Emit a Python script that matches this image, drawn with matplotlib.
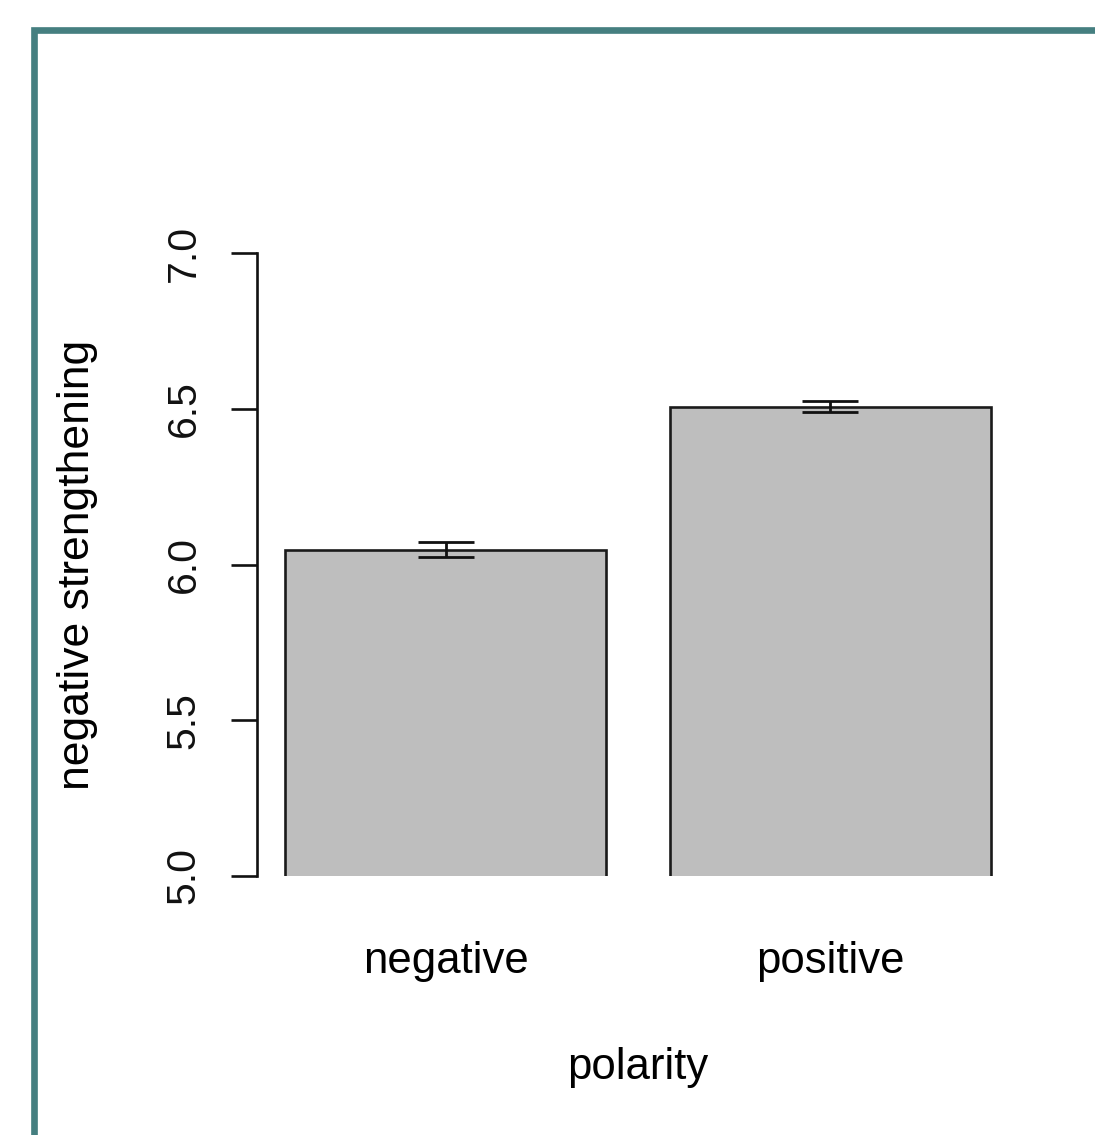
"""bar chart of negative strengthening by polarity"""
import matplotlib
matplotlib.use("Agg")
import matplotlib.pyplot as plt
from matplotlib.lines import Line2D

plt.rcParams['font.family'] = ['Liberation Sans', 'DejaVu Sans']

polarity = ['negative', 'positive']
means = [6.048, 6.507]
errors = [0.025, 0.017]
yticks = [5.0, 5.5, 6.0, 6.5, 7.0]

W, H = 1095, 1135
fig = plt.figure(figsize=(W / 100, H / 100), dpi=100)

# axes placed in pixel terms like the R plot region
x0, x1 = 257, 1019
y_bot, y_top = 876, 190.7
ax = fig.add_axes([x0 / W, 1 - y_bot / H, (x1 - x0) / W, (y_bot - y_top) / H])

# R barplot: width 1, space 0.2
xs = [0.7, 1.9]
ax.bar(xs, [m - 4.9 for m in means], bottom=4.9, width=1.0, color='#bebebe',
       edgecolor='#1a1a1a', linewidth=1.9)
ax.errorbar(xs, means, yerr=errors, fmt='none', ecolor='#111111',
            elinewidth=2.0, capsize=20.5, capthick=2.0)

ax.set_xlim(0.112, 2.488)
ax.set_ylim(5.0, 7.2)

for s in ['top', 'right', 'bottom']:
    ax.spines[s].set_visible(False)
ax.spines['left'].set_bounds(5.0, 7.0)
ax.spines['left'].set_linewidth(1.9)
ax.spines['left'].set_color('#111111')

ax.set_yticks(yticks)
ax.set_yticklabels([f"{v:.1f}" for v in yticks], rotation=90, va='center',
                   fontsize=29.5)
ax.tick_params(axis='y', length=19, width=1.9, pad=20, colors='#111111')
ax.set_xticks(xs)
ax.set_xticklabels(polarity, fontsize=31.5)
ax.tick_params(axis='x', length=0, pad=47)

fig.text(78 / W, 1 - 565 / H, 'negative strengthening', rotation=90,
         ha='center', va='center', fontsize=32)
fig.text(638 / W, 1 - 1068 / H, 'polarity', ha='center', va='center',
         fontsize=31.5)

# teal frame
frame = Line2D([34 / W, 34 / W, 1.0], [0.0, 1 - 30 / H, 1 - 30 / H],
               transform=fig.transFigure, color='#457f80', linewidth=4.8,
               solid_joinstyle='miter')
fig.add_artist(frame)

fig.savefig('out.png', dpi=100)
